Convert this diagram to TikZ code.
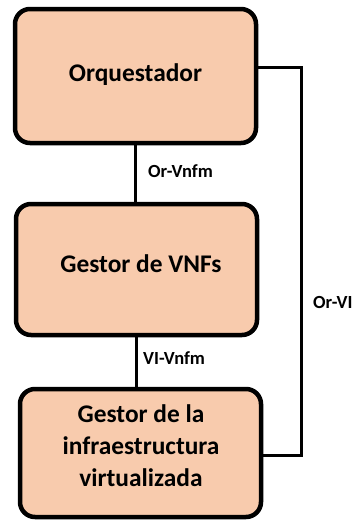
\documentclass[tikz,border=0pt]{standalone}
\usepackage{fontspec}
\setmainfont{Carlito}
\definecolor{peach}{HTML}{F8CBAD}
\begin{document}
\begin{tikzpicture}[x=1pt,y=-1pt,
  box/.style={draw=black,line width=4.5pt,fill=peach,rounded corners=15pt,inner sep=0pt,minimum width=241pt},
  bigtxt/.style={font=\fontsize{25.4}{32}\selectfont\bfseries,inner sep=0pt,anchor=base,align=center},
  lbl/.style={font=\fontsize{18.5}{22}\selectfont\bfseries,inner sep=0pt,anchor=base west},
  link/.style={draw=black,line width=3pt}]
\useasboundingbox (0,0) rectangle (355,520);
% boxes
\node[box,minimum height=134pt] (o) at (135.5,76) {};
\node[box,minimum height=131pt] (g) at (136.5,269.5) {};
\node[box,minimum height=128pt] (v) at (140.5,453) {};
% texts
\node[bigtxt] (ot) at (135.5,81) {Orquestador};
\node[bigtxt] (gt) at (141,272) {Gestor de VNFs};
\node[bigtxt,anchor=north] (vt) at (141,404) {Gestor de la\\infraestructura\\virtualizada};
% connectors
\coordinate (rc) at (301,455);
\draw[link] (o.south) -- (o.south |- g.north);
\draw[link] (g.south) -- (g.south |- v.north);
\draw[link] ([yshift=9pt]o.east) -| (rc) -- (rc -| v.east);
% labels
\node[lbl] (l1) at (148,177) {Or-Vnfm};
\node[lbl] (l2) at (143,364) {VI-Vnfm};
\node[lbl] (l3) at (313,308) {Or-VI};
\end{tikzpicture}
\end{document}
